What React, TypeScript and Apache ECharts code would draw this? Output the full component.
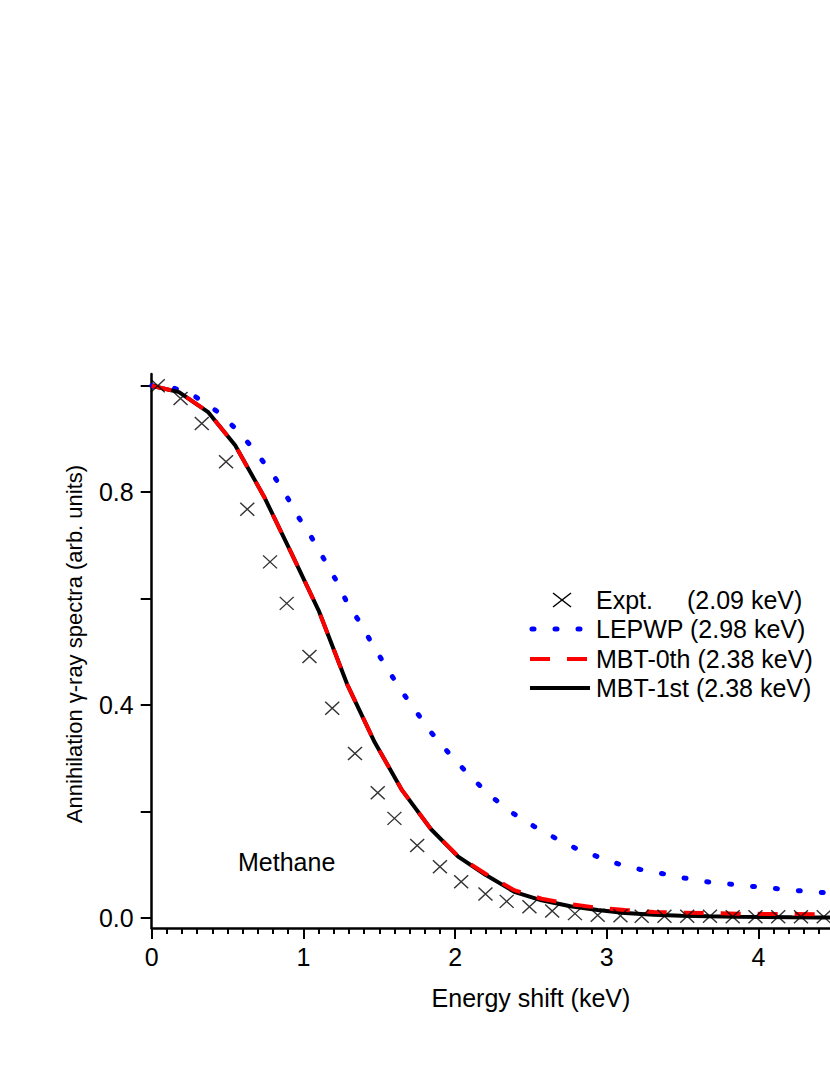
import { useEffect, useRef } from "react";
import * as echarts from "echarts";

// Experimental points (Expt.)
const exptX = [0.04, 0.19, 0.33, 0.49, 0.63, 0.78, 0.89, 1.04, 1.19, 1.34, 1.49, 1.60, 1.75, 1.90, 2.04, 2.20, 2.34, 2.49, 2.64, 2.79, 2.94, 3.09, 3.23, 3.38, 3.53, 3.68, 3.83, 3.98, 4.13, 4.28, 4.43, 4.58];
const exptY = [1.0, 0.976, 0.929, 0.857, 0.768, 0.669, 0.591, 0.491, 0.394, 0.309, 0.235, 0.187, 0.136, 0.096, 0.068, 0.045, 0.031, 0.021, 0.013, 0.008, 0.005, 0.004, 0.003, 0.003, 0.003, 0.003, 0.002, 0.002, 0.002, 0.002, 0.002, 0.002];

// LEPWP curve
const lepwpX = [0, 0.15, 0.29, 0.43, 0.57, 0.69, 0.80, 0.89, 0.97, 1.06, 1.14, 1.22, 1.29, 1.38, 1.46, 1.55, 1.64, 1.74, 1.84, 1.96, 2.09, 2.23, 2.38, 2.52, 2.66, 2.80, 2.94, 3.08, 3.22, 3.37, 3.51, 3.65, 3.79, 3.93, 4.08, 4.22, 4.36, 4.50, 4.65];
const lepwpY = [1.0, 0.995, 0.979, 0.952, 0.915, 0.874, 0.833, 0.792, 0.752, 0.712, 0.672, 0.632, 0.591, 0.552, 0.511, 0.470, 0.429, 0.389, 0.349, 0.309, 0.269, 0.230, 0.197, 0.172, 0.150, 0.130, 0.115, 0.101, 0.091, 0.083, 0.075, 0.068, 0.064, 0.060, 0.056, 0.052, 0.049, 0.046, 0.043];

// MBT curves
const mbtX = [0, 0.18, 0.37, 0.55, 0.74, 0.92, 1.10, 1.29, 1.47, 1.65, 1.84, 2.02, 2.20, 2.39, 2.57, 2.76, 2.94, 3.12, 3.31, 3.49, 3.67, 3.86, 4.04, 4.22, 4.41, 4.59];
const mbt0Y = [1.0, 0.988, 0.951, 0.888, 0.792, 0.686, 0.578, 0.438, 0.330, 0.240, 0.167, 0.116, 0.083, 0.052, 0.036, 0.026, 0.019, 0.015, 0.011, 0.0097, 0.009, 0.008, 0.0075, 0.0073, 0.007, 0.0068];
const mbt1Y = [1.0, 0.988, 0.951, 0.888, 0.792, 0.686, 0.578, 0.438, 0.330, 0.240, 0.167, 0.115, 0.081, 0.049, 0.033, 0.022, 0.015, 0.009, 0.006, 0.004, 0.003, 0.002, 0.0015, 0.001, 0.0006, 0.0004];

const yTickValues = [0, 0.2, 0.4, 0.6, 0.8, 1.0];
const yLabelValues = [0, 0.4, 0.8];
const seriesNames = ["Expt.", "LEPWP (2.98 keV)", "MBT-0th (2.38 keV)", "MBT-1st (2.38 keV)"];
const exptWidthNote = "(2.09 keV)";
const yTitle = "Annihilation γ-ray spectra (arb. units)";
const xTitle = "Energy shift (keV)";
const sampleLabel = "Methane";

const FONT = "Liberation Sans, Arial, sans-serif";

const zip = (xs: number[], ys: number[]) => xs.map((x, i) => [x, ys[i]]);

export default function App() {
  const ref = useRef<HTMLDivElement>(null);
  useEffect(() => {
    if (!ref.current) return;
    const chart = echarts.init(ref.current, null, { renderer: "svg" });
    const legX = 596;
    const rows = [600, 629, 659, 688];
    const txt = (text: string, x: number, y: number) => ({
      type: "text",
      x,
      y,
      style: { text, fontSize: 25, fontFamily: FONT, fill: "#000", verticalAlign: "middle" },
    });
    chart.setOption({
      animation: false,
      backgroundColor: "#ffffff",
      textStyle: { fontFamily: FONT, color: "#000" },
      grid: { left: 151.7, top: 374, width: 758.5, height: 554, containLabel: false },
      xAxis: {
        type: "value",
        min: 0,
        max: 5,
        interval: 1,
        name: xTitle,
        nameLocation: "middle",
        nameGap: 57,
        nameTextStyle: { fontSize: 25, fontFamily: FONT, color: "#000" },
        axisLine: { show: true, onZero: false, lineStyle: { color: "#000", width: 2.5 } },
        axisTick: { show: true, inside: false, length: 11, lineStyle: { color: "#000", width: 2 } },
        minorTick: { show: true, splitNumber: 10, length: 6, lineStyle: { color: "#000", width: 2 } },
        axisLabel: { fontSize: 25, fontFamily: FONT, color: "#000", margin: 16, showMaxLabel: false },
        splitLine: { show: false },
      },
      yAxis: {
        type: "value",
        min: -0.019,
        max: 1.022,
        axisLine: { show: true, onZero: false, lineStyle: { color: "#000", width: 2.5 } },
        axisTick: { show: true, inside: false, length: 11, customValues: yTickValues, lineStyle: { color: "#000", width: 2 } },
        axisLabel: {
          fontSize: 25,
          fontFamily: FONT,
          color: "#000",
          margin: 18,
          customValues: yLabelValues,
          formatter: (v: number) => v.toFixed(1),
        },
        splitLine: { show: false },
      },
      series: [
        {
          name: seriesNames[1],
          type: "line",
          data: zip(lepwpX, lepwpY),
          showSymbol: false,
          lineStyle: { color: "#0000ff", width: 5, type: [2, 21], cap: "round" },
          z: 2,
        },
        {
          name: seriesNames[3],
          type: "line",
          data: zip(mbtX, mbt1Y),
          showSymbol: false,
          lineStyle: { color: "#000000", width: 4, type: "solid" },
          z: 3,
        },
        {
          name: seriesNames[2],
          type: "line",
          data: zip(mbtX, mbt0Y),
          showSymbol: false,
          lineStyle: { color: "#ff0000", width: 4, type: [20, 17] },
          z: 4,
        },
        {
          name: seriesNames[0],
          type: "scatter",
          data: zip(exptX, exptY),
          symbol: "path://M0,0L10,10M0,10L10,0",
          symbolSize: [14, 13],
          itemStyle: { color: "transparent", borderColor: "#000", borderWidth: 1.4 },
          z: 5,
        },
      ],
      graphic: [
        {
          type: "line",
          shape: { x1: 553, y1: 593, x2: 571, y2: 607 },
          style: { stroke: "#000", lineWidth: 1.5 },
        },
        {
          type: "line",
          shape: { x1: 553, y1: 607, x2: 571, y2: 593 },
          style: { stroke: "#000", lineWidth: 1.5 },
        },
        {
          type: "line",
          shape: { x1: 532, y1: rows[1], x2: 590, y2: rows[1] },
          style: { stroke: "#0000ff", lineWidth: 5, lineDash: [2, 21], lineCap: "round" },
        },
        {
          type: "line",
          shape: { x1: 530, y1: rows[2], x2: 590, y2: rows[2] },
          style: { stroke: "#ff0000", lineWidth: 4, lineDash: [20, 17] },
        },
        {
          type: "line",
          shape: { x1: 530, y1: rows[3], x2: 590, y2: rows[3] },
          style: { stroke: "#000", lineWidth: 4 },
        },
        txt(seriesNames[0], legX, rows[0]),
        txt(exptWidthNote, 687, rows[0]),
        txt(seriesNames[1], legX, rows[1]),
        txt(seriesNames[2], legX, rows[2]),
        txt(seriesNames[3], legX, rows[3]),
        txt(sampleLabel, 238, 862),
        {
          type: "text",
          x: 74,
          y: 644,
          rotation: Math.PI / 2,
          style: {
            text: yTitle,
            fontSize: 22,
            fontFamily: FONT,
            fill: "#000",
            align: "center",
            verticalAlign: "middle",
          },
        },
      ],
    });
    return () => chart.dispose();
  }, []);
  return (
    <div style={{ position: "absolute", left: 0, top: 0, width: 830, height: 1075, overflow: "hidden", background: "#fff" }}>
      <div ref={ref} style={{ width: 1000, height: 1075 }} />
    </div>
  );
}
